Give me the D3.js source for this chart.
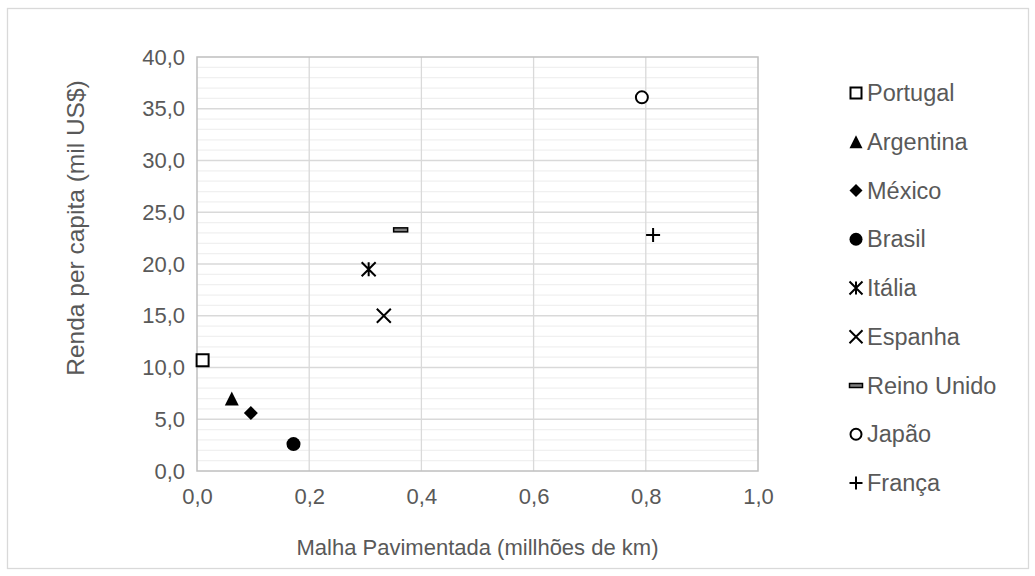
<!DOCTYPE html>
<html><head><meta charset="utf-8">
<script src="https://cdn.jsdelivr.net/npm/d3@7"></script>
<style>body{margin:0;background:#fff;} text{font-family:"Liberation Sans",Arial,sans-serif;fill:#595959;}</style>
</head><body>
<svg id="chart" width="1035" height="576"></svg>
<script>
const countries = ["Portugal","Argentina","México","Brasil","Itália","Espanha","Reino Unido","Japão","França"];
const malha = [0.01, 0.062, 0.096, 0.172, 0.306, 0.333, 0.363, 0.793, 0.813];
const renda = [10.7, 7.0, 5.6, 2.6, 19.5, 15.0, 23.3, 36.1, 22.8];
const markers = ["square","triangle","diamond","circle","asterisk","x","dash","ocircle","plus"];
const xTicks = [0, 0.2, 0.4, 0.6, 0.8, 1.0];
const yTicks = [0, 5, 10, 15, 20, 25, 30, 35, 40];
const yMinor = d3.range(0, 41, 1);

const loc = d3.formatLocale({decimal:",", thousands:".", grouping:[3], currency:["",""]});
const fmt = loc.format(".1f");

const svg = d3.select("#chart");
const TICK_FS = 22, LEG_FS = 23.5, XT_FS = 22, YT_FS = 24.5;
svg.append("rect").attr("x",7.5).attr("y",8.5).attr("width",1021).attr("height",560)
  .attr("fill","#fff").attr("stroke","#d9d9d9").attr("stroke-width",1.3);

const x = d3.scaleLinear().domain([0,1]).range([197,758]);
const y = d3.scaleLinear().domain([0,40]).range([471,57]);

// minor gridlines
svg.append("g").selectAll("line").data(yMinor.filter(v=>v%5!==0)).join("line")
  .attr("x1",x(0)).attr("x2",x(1)).attr("y1",d=>y(d)).attr("y2",d=>y(d))
  .attr("stroke","#f0f0f0").attr("stroke-width",1.3);
// major gridlines
svg.append("g").selectAll("line").data(yTicks.slice(1,-1)).join("line")
  .attr("x1",x(0)).attr("x2",x(1)).attr("y1",d=>y(d)).attr("y2",d=>y(d))
  .attr("stroke","#d9d9d9").attr("stroke-width",1.3);
svg.append("g").selectAll("line").data(xTicks.slice(1,-1)).join("line")
  .attr("x1",d=>x(d)).attr("x2",d=>x(d)).attr("y1",y(0)).attr("y2",y(40))
  .attr("stroke","#d9d9d9").attr("stroke-width",1.3);
// plot border
svg.append("rect").attr("x",x(0)).attr("y",y(40)).attr("width",x(1)-x(0)).attr("height",y(0)-y(40))
  .attr("fill","none").attr("stroke","#bfbfbf").attr("stroke-width",1.5);

// axes
const xAxis = svg.append("g").attr("transform",`translate(0,${y(0)})`)
  .call(d3.axisBottom(x).tickValues(xTicks).tickFormat(fmt).tickSize(0).tickPadding(17));
xAxis.select(".domain").remove();
xAxis.selectAll("text").attr("font-size",TICK_FS).attr("fill","#595959").style("font-family","Liberation Sans, Arial, sans-serif");
const yAxis = svg.append("g").attr("transform",`translate(${x(0)},0)`)
  .call(d3.axisLeft(y).tickValues(yTicks).tickFormat(fmt).tickSize(0).tickPadding(12));
yAxis.select(".domain").remove();
yAxis.selectAll("text").attr("font-size",TICK_FS).attr("fill","#595959").style("font-family","Liberation Sans, Arial, sans-serif");

// titles
svg.append("text").attr("x",(x(0)+x(1))/2).attr("y",555).attr("text-anchor","middle")
  .attr("font-size",XT_FS).text("Malha Pavimentada (millhões de km)");
svg.append("text").attr("transform",`translate(84,228) rotate(-90)`)
  .attr("text-anchor","middle").attr("font-size",YT_FS).text("Renda per capita (mil US$)");

function drawMarker(g, type, s) {
  const h = s/2;
  switch(type){
    case "square": g.append("rect").attr("x",-h+1).attr("y",-h+1).attr("width",s-2).attr("height",s-2)
      .attr("fill","#fff").attr("stroke","#000").attr("stroke-width",2); break;
    case "triangle": g.append("path").attr("d",`M0,${-h}L${h},${h}L${-h},${h}Z`).attr("fill","#000"); break;
    case "diamond": g.append("path").attr("d",`M0,${-h}L${h},0L0,${h}L${-h},0Z`).attr("fill","#000"); break;
    case "circle": g.append("circle").attr("r",h).attr("fill","#000"); break;
    case "ocircle": g.append("circle").attr("r",h-1).attr("fill","#fff").attr("stroke","#000").attr("stroke-width",2); break;
    case "x": g.append("path").attr("d",`M${-h},${-h}L${h},${h}M${h},${-h}L${-h},${h}`).attr("stroke","#000").attr("stroke-width",2); break;
    case "asterisk": g.append("path").attr("d",`M${-h},${-h}L${h},${h}M${h},${-h}L${-h},${h}M0,${-h}L0,${h}`).attr("stroke","#000").attr("stroke-width",2); break;
    case "plus": g.append("path").attr("d",`M${-h},0L${h},0M0,${-h}L0,${h}`).attr("stroke","#000").attr("stroke-width",2); break;
    case "dash": g.append("rect").attr("x",-h).attr("y",-2).attr("width",s).attr("height",4)
      .attr("fill","#7f7f7f").attr("stroke","#000").attr("stroke-width",1.5); break;
  }
}

// points
countries.forEach((c,i)=>{
  const g = svg.append("g").attr("transform",`translate(${x(malha[i])},${y(renda[i])})`);
  drawMarker(g, markers[i], 14);
});

// legend
const legY0 = 93, legDy = 48.75;
countries.forEach((c,i)=>{
  const g = svg.append("g").attr("transform",`translate(856,${legY0+i*legDy})`);
  drawMarker(g, markers[i], 13);
  svg.append("text").attr("x",867).attr("y",legY0+i*legDy).attr("dy","0.35em")
    .attr("font-size",LEG_FS).text(c);
});
</script>
</body></html>
